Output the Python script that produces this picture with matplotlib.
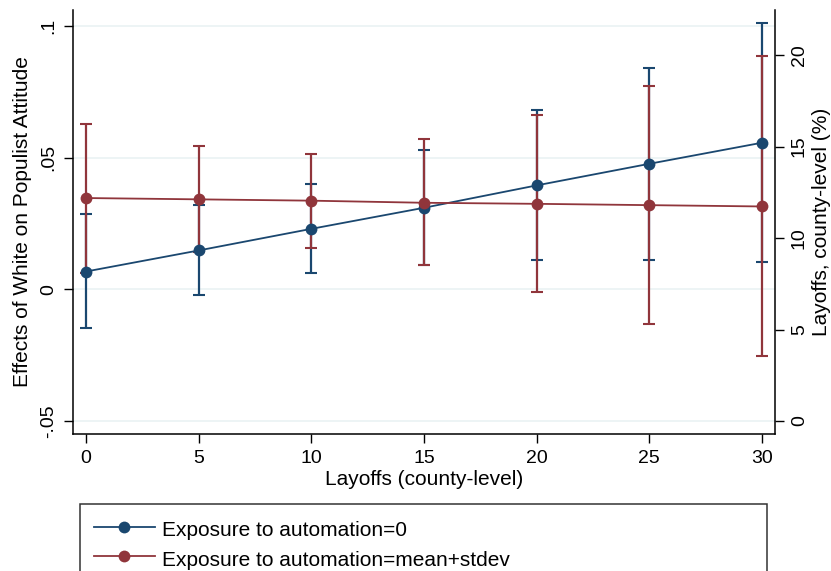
import matplotlib
matplotlib.use("Agg")
import matplotlib.pyplot as plt
from matplotlib.lines import Line2D
import numpy as np

plt.rcParams['font.family'] = ['Liberation Sans', 'DejaVu Sans']

layoffs = [0, 5, 10, 15, 20, 25, 30]

eff_zero = [0.0068, 0.0148, 0.0230, 0.0310, 0.0395, 0.0477, 0.0557]
lo_zero = [-0.0148, -0.0020, 0.0062, 0.0093, 0.0110, 0.0110, 0.0104]
hi_zero = [0.0285, 0.0320, 0.0400, 0.0528, 0.0680, 0.0842, 0.1010]

eff_sd = [0.0347, 0.0342, 0.0337, 0.0329, 0.0325, 0.0320, 0.0315]
lo_sd = [0.0064, 0.0141, 0.0157, 0.0094, -0.0011, -0.0130, -0.0254]
hi_sd = [0.0630, 0.0543, 0.0516, 0.0571, 0.0664, 0.0772, 0.0886]

x_ticks = [0, 5, 10, 15, 20, 25, 30]
left_ticks = [-0.05, 0, 0.05, 0.1]
left_ticklabels = ['-.05', '0', '.05', '.1']
right_ticks = [0, 5, 10, 15, 20]

labels = ['Exposure to automation=0', 'Exposure to automation=mean+stdev']

BLUE = '#1a476f'
RED = '#90353b'
GRID = '#eaf2f3'


def draw_plot(plt_file='out.png'):
    fig = plt.figure(figsize=(8.31, 5.71), dpi=100)
    fig.patch.set_facecolor('white')
    ax = fig.add_axes([73/831, 1 - 434/571, (775-73)/831, (434-10)/571])

    ax.set_xlim(-0.58, 30.58)
    ax.set_ylim(-0.0549, 0.1061)

    for v in left_ticks:
        ax.axhline(v, color=GRID, lw=1.2, zorder=0)

    x = np.array(layoffs)
    for eff, lo, hi, col in [(eff_zero, lo_zero, hi_zero, BLUE),
                             (eff_sd, lo_sd, hi_sd, RED)]:
        eff, lo, hi = np.array(eff), np.array(lo), np.array(hi)
        ax.errorbar(x, eff, yerr=[eff - lo, hi - eff], fmt='none', ecolor=col,
                    elinewidth=1.6, capsize=4.3, capthick=1.5, zorder=2)
    for eff, col in [(eff_zero, BLUE), (eff_sd, RED)]:
        ax.plot(x, eff, color=col, lw=1.3, marker='o', markersize=8.5,
                markeredgewidth=0, zorder=3)

    ax.set_xticks(x_ticks)
    ax.set_yticks(left_ticks)
    ax.set_yticklabels(left_ticklabels, rotation=90, va='center')
    ax.tick_params(axis='both', length=6.5, width=1, labelsize=14, pad=5)
    ax.set_xlabel('Layoffs (county-level)', fontsize=15, labelpad=2)
    ax.set_ylabel('Effects of White on Populist Attitude', fontsize=15, labelpad=6)
    ax.spines['top'].set_visible(False)
    ax.spines['right'].set_visible(False)
    for s in ['left', 'bottom']:
        ax.spines[s].set_linewidth(1.1)

    ax2 = ax.twinx()
    ax2.set_ylim(-0.71, 22.46)
    ax2.set_yticks(right_ticks)
    ax2.set_yticklabels([str(t) for t in right_ticks], rotation=90, va='center')
    ax2.tick_params(axis='y', length=6.5, width=1, labelsize=14, pad=5)
    ax2.set_ylabel('Layoffs, county-level (%)', fontsize=15, labelpad=3)
    ax2.spines['top'].set_visible(False)
    ax2.spines['left'].set_visible(False)
    ax2.spines['bottom'].set_visible(False)
    ax2.spines['right'].set_linewidth(1.1)

    handles = [Line2D([], [], color=BLUE, lw=1.3, marker='o', markersize=8.5, markeredgewidth=0),
               Line2D([], [], color=RED, lw=1.3, marker='o', markersize=8.5, markeredgewidth=0)]
    leg = fig.legend(handles, labels, loc='upper left',
                     bbox_to_anchor=(80/831, 1 - 504/571, (767-80)/831, 0.0),
                     mode='expand', fontsize=15, frameon=True, fancybox=False,
                     edgecolor='black', borderpad=0.65, handlelength=2.95,
                     handleheight=1.4, handletextpad=0.35, labelspacing=0.25,
                     borderaxespad=0)
    leg.get_frame().set_linewidth(1.1)

    fig.savefig(plt_file, dpi=100)


if __name__ == '__main__':
    draw_plot()
